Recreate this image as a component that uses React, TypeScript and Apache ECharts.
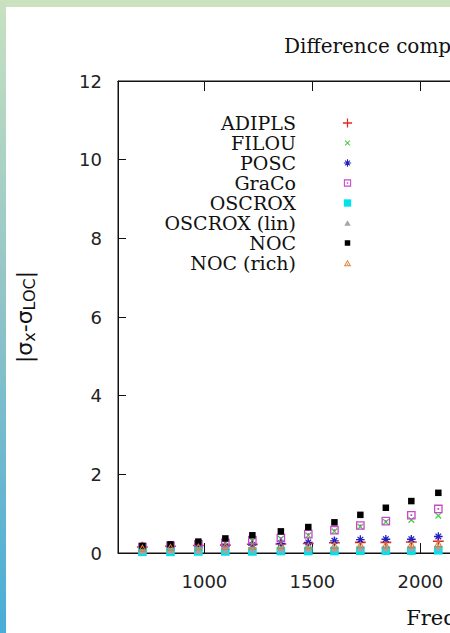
import React, { useEffect, useRef } from 'react';
import * as echarts from 'echarts';

// Mode frequencies (μHz) and absolute differences for each code
const frequencies = [713, 843, 972, 1097, 1222, 1354, 1481, 1602, 1722, 1840, 1958, 2083];
const adipls = [0.15, 0.17, 0.19, 0.2, 0.22, 0.23, 0.24, 0.26, 0.27, 0.27, 0.28, 0.3];
const filou = [0.14, 0.17, 0.21, 0.25, 0.31, 0.36, 0.45, 0.55, 0.67, 0.79, 0.84, 0.95];
const posc = [0.12, 0.13, 0.15, 0.17, 0.2, 0.24, 0.27, 0.31, 0.34, 0.35, 0.35, 0.42];
const graco = [0.15, 0.18, 0.22, 0.26, 0.33, 0.38, 0.48, 0.58, 0.7, 0.81, 0.96, 1.12];
const oscrox = [0.03, 0.03, 0.04, 0.04, 0.04, 0.05, 0.05, 0.05, 0.06, 0.06, 0.06, 0.07];
const oscroxLin = [0.05, 0.06, 0.06, 0.07, 0.08, 0.09, 0.1, 0.1, 0.12, 0.12, 0.13, 0.14];
const noc = [0.18, 0.22, 0.29, 0.37, 0.45, 0.55, 0.66, 0.78, 0.97, 1.15, 1.32, 1.53];
const nocRich = [0.13, 0.15, 0.16, 0.17, 0.18, 0.19, 0.19, 0.2, 0.21, 0.21, 0.22, 0.24];

const seriesNames = ['ADIPLS', 'FILOU', 'POSC', 'GraCo', 'OSCROX', 'OSCROX (lin)', 'NOC', 'NOC (rich)'];
const seriesValues = [adipls, filou, posc, graco, oscrox, oscroxLin, noc, nocRich];
const seriesColors = ['#e02a2a', '#44cc44', '#2020c0', '#c848c8', '#00e2ee', '#a4a4a4', '#000000', '#e07a34'];

const xTickValues = [1000, 1500, 2000, 2500, 3000, 3500, 4000];
const xMin = 600;
const xMax = 4100;

// gnuplot-like point shapes, all drawn inside a shared 12x12 frame
const frame = 'M0 0M12 12';
const shapes = [
  // plus
  'M5.3 1H6.7V5.3H11V6.7H6.7V11H5.3V6.7H1V5.3H5.3Z',
  // cross
  'M3 3.8L3.8 3L9 8.2L8.2 9ZM8.2 3L9 3.8L3.8 9L3 8.2Z',
  // asterisk
  'M5.4 2H6.6V5.4H10V6.6H6.6V10H5.4V6.6H2V5.4H5.4ZM3 3.8L3.8 3L9 8.2L8.2 9ZM8.2 3L9 3.8L3.8 9L3 8.2Z',
  // open square with dot
  'M2 2H10V10H2ZM3.2 3.2V8.8H8.8V3.2ZM5.2 5.2H6.8V6.8H5.2Z',
  // filled square
  'M2 2H10V10H2Z',
  // filled triangle
  'M6 3L9.5 9H2.5Z',
  // small filled square
  'M3 3H9V9H3Z',
  // open triangle with dot
  'M6 2.5L10 9.5H2ZM6 4.4L3.7 8.5H8.3ZM5.3 6.6H6.7V7.8H5.3Z',
];

const sansFont = 'DejaVu Sans';
const serifFont = 'DejaVu Serif';

// legend geometry: label box, gap to the marker column, legend padding
const legendLabelWidth = 150;
const legendLabelGap = 41;
const legendMarkerLeft = 342;
const legendPadding = 5;

export default function App() {
  const ref = useRef<HTMLDivElement>(null);

  useEffect(() => {
    if (!ref.current) return;
    const chart = echarts.init(ref.current, undefined, { renderer: 'svg' });

    const series = seriesNames.map((name, i) => ({
      name,
      type: 'scatter',
      symbol: 'path://' + frame + shapes[i],
      symbolSize: 13,
      itemStyle: { color: seriesColors[i], opacity: 1 },
      data: frequencies.map((f, j) => [f, seriesValues[i][j]]),
      z: 2 + i,
    }));

    const tickStyle = { inside: true, length: 10, lineStyle: { color: '#111', width: 1 } };
    const pxPerHz = 0.216;

    chart.setOption({
      animation: false,
      backgroundColor: '#ffffff',
      title: {
        text: 'Difference comparison',
        left: 279,
        top: 31,
        textStyle: { fontFamily: serifFont, fontSize: 20, fontWeight: 'normal', color: '#111' },
      },
      legend: {
        orient: 'vertical',
        left: legendMarkerLeft - 5 - legendLabelWidth - legendLabelGap - legendPadding,
        top: 108,
        padding: legendPadding,
        align: 'right',
        itemWidth: 11,
        itemHeight: 11,
        itemGap: 0,
        selectedMode: false,
        data: seriesNames,
        textStyle: {
          fontFamily: serifFont,
          fontSize: 19,
          color: '#111',
          width: legendLabelWidth,
          align: 'right',
          lineHeight: 20,
          padding: [0, legendLabelGap, 0, 0],
        },
      },
      grid: {
        left: 118,
        top: 81,
        width: (xMax - xMin) * pxPerHz,
        height: 477,
        show: true,
        borderColor: '#111',
        borderWidth: 1,
        backgroundColor: 'transparent',
      },
      xAxis: [
        {
          type: 'value',
          position: 'bottom',
          min: xMin,
          max: xMax,
          name: 'Frequency (μHz)',
          nameLocation: 'middle',
          nameGap: 54,
          nameTextStyle: { fontFamily: serifFont, fontSize: 21, color: '#111' },
          axisLine: { show: true, onZero: false, lineStyle: { color: '#111', width: 1 } },
          axisTick: { ...tickStyle, customValues: xTickValues },
          axisLabel: {
            customValues: xTickValues,
            formatter: (v: number) => String(v),
            margin: 19,
            fontFamily: sansFont,
            fontSize: 18,
            color: '#222',
          },
          splitLine: { show: false },
        },
        {
          type: 'value',
          position: 'top',
          min: xMin,
          max: xMax,
          axisLine: { show: true, onZero: false, lineStyle: { color: '#111', width: 1 } },
          axisTick: { ...tickStyle, customValues: xTickValues },
          axisLabel: { show: false },
          splitLine: { show: false },
        },
      ],
      yAxis: {
        type: 'value',
        min: 0,
        max: 12,
        interval: 2,
        name: '{a||σ}{s|x}{a|-σ}{s|LOC}{a||}',
        nameLocation: 'middle',
        nameGap: 81,
        nameTextStyle: {
          rich: {
            a: { fontFamily: sansFont, fontSize: 22, lineHeight: 26, color: '#111' },
            s: { fontFamily: sansFont, fontSize: 16, lineHeight: 16, verticalAlign: 'bottom', color: '#111' },
          },
        },
        axisLine: { show: true, lineStyle: { color: '#111', width: 1 } },
        axisTick: { inside: true, length: 8, lineStyle: { color: '#111', width: 1 } },
        axisLabel: { margin: 16, fontFamily: sansFont, fontSize: 18, color: '#222' },
        splitLine: { show: false },
      },
      graphic: [
        {
          type: 'rect',
          left: 0,
          top: 0,
          z: 100,
          shape: { width: 900, height: 7 },
          style: { fill: '#cae2c0' },
        },
        {
          type: 'rect',
          left: 0,
          top: 0,
          z: 101,
          shape: { width: 6, height: 633 },
          style: {
            fill: new echarts.graphic.LinearGradient(0, 0, 0, 1, [
              { offset: 0, color: '#c8e1c0' },
              { offset: 0.5, color: '#8ec3c8' },
              { offset: 1, color: '#48add8' },
            ]),
          },
        },
      ],
      series,
    });

    return () => chart.dispose();
  }, []);

  return (
    <div
      style={{
        position: 'fixed',
        left: 0,
        top: 0,
        width: 450,
        height: 633,
        overflow: 'hidden',
        background: '#ffffff',
      }}
    >
      <div ref={ref} style={{ width: 900, height: 633 }} />
    </div>
  );
}
